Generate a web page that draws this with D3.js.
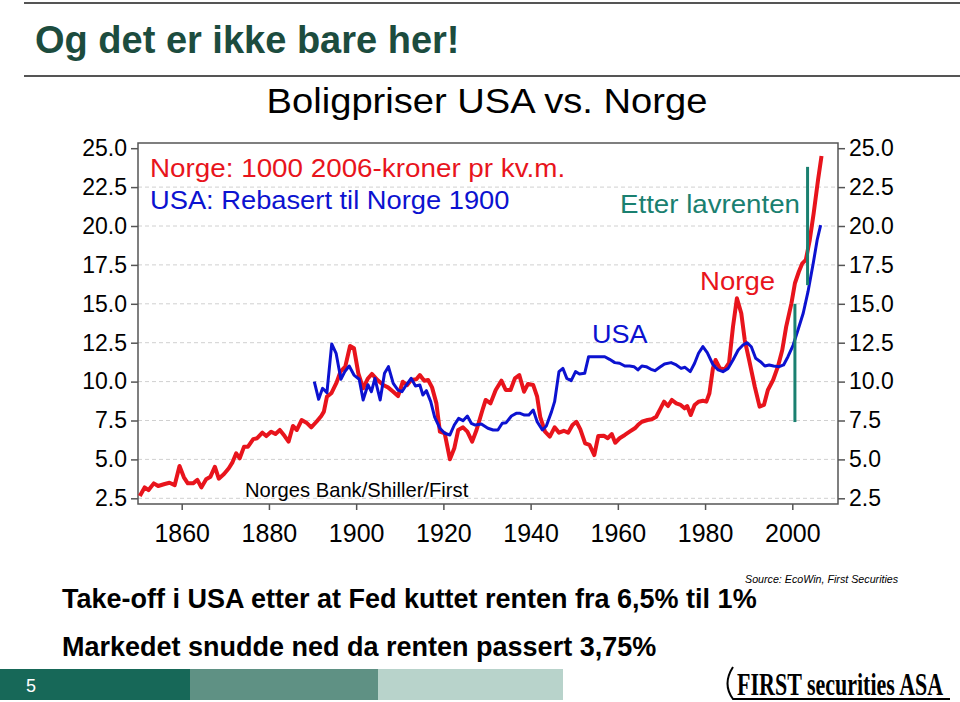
<!DOCTYPE html>
<html><head><meta charset="utf-8">
<script src="https://cdn.jsdelivr.net/npm/d3@7"></script>
<style>body{margin:0;background:#fff;overflow:hidden}</style>
</head><body>
<svg id="c" width="960" height="702"></svg>
<script>
// ---------- DATA ----------
const norgeYears = [1850.4,1851.5,1852.4,1853.6,1854.6,1856.1,1857.2,1858.4,1859.5,1860.5,1861.4,1862.6,1863.6,1864.5,1865.6,1866.6,1867.6,1868.5,1869.7,1870.8,1871.6,1872.5,1873.3,1874.3,1875.2,1876.4,1877.3,1878.5,1879.4,1880.5,1881.5,1882.5,1883.6,1884.5,1885.5,1886.4,1887.5,1888.6,1889.7,1890.9,1892.0,1892.6,1893.3,1894.3,1895.5,1896.4,1897.5,1898.6,1899.5,1900.5,1901.6,1902.7,1903.6,1904.9,1906.2,1907.3,1908.5,1909.6,1910.7,1911.7,1912.6,1913.8,1914.6,1915.6,1916.5,1917.4,1918.4,1919.2,1920.3,1921.5,1922.5,1923.4,1924.5,1925.5,1926.6,1927.6,1929.1,1929.7,1930.8,1932.0,1933.3,1934.3,1935.4,1936.4,1937.4,1938.5,1939.4,1940.6,1941.5,1942.2,1943.3,1944.4,1945.5,1946.5,1947.6,1948.6,1949.6,1950.5,1951.4,1952.5,1953.5,1954.6,1955.5,1956.8,1957.7,1958.6,1959.4,1960.4,1961.6,1962.7,1963.9,1964.6,1965.5,1966.8,1967.8,1968.8,1969.8,1970.6,1971.5,1972.4,1973.4,1974.4,1975.3,1975.9,1976.7,1977.6,1978.5,1979.5,1980.3,1981.0,1981.8,1982.4,1983.4,1984.5,1985.5,1986.4,1987.3,1988.3,1989.1,1990.1,1991.4,1992.5,1993.5,1994.4,1995.6,1996.7,1997.7,1998.6,1999.8,2000.6,2001.5,2002.3,2003.1,2004.0,2004.9,2005.9,2006.7];
const norgeValues = [2.65,3.2,3.03,3.46,3.29,3.42,3.5,3.35,4.58,3.85,3.46,3.46,3.68,3.2,3.72,3.89,4.53,3.76,4.06,4.43,4.79,5.39,5.07,5.82,5.82,6.3,6.36,6.72,6.5,6.78,6.63,6.89,6.5,6.14,7.15,6.89,7.53,7.36,7.06,7.42,7.79,8.07,9.03,9.25,9.93,10.64,10.96,12.29,12.14,10.53,9.57,10.2,10.49,10.1,9.78,9.63,9.35,9.07,9.99,9.78,10.1,10.15,10.42,10.06,10.1,9.63,8.6,6.78,6.68,5.01,5.71,6.89,7.06,6.78,6.14,6.89,8.3,8.82,8.6,9.46,10.06,9.46,9.46,10.21,10.42,9.35,9.85,9.78,9.03,7.74,6.78,6.46,7.06,6.72,6.84,6.72,7.21,7.42,6.93,6.03,5.93,5.28,6.5,6.52,6.36,6.63,6.07,6.36,6.57,6.78,7.0,7.21,7.42,7.53,7.58,7.74,8.28,8.71,8.43,8.82,8.6,8.5,8.28,8.43,7.85,8.5,8.71,8.77,8.71,9.25,10.85,11.39,10.85,10.79,11.21,13.53,15.35,14.39,12.67,11.39,9.67,8.39,8.5,9.46,10.1,10.96,12.03,13.53,15.03,16.32,17.06,17.6,17.82,19.1,20.82,22.96,24.5];

const usaYears = [1890.4,1891.4,1892.3,1893.3,1894.4,1895.4,1896.5,1897.4,1898.4,1899.5,1900.7,1901.6,1902.7,1903.5,1904.3,1905.5,1906.5,1907.4,1908.5,1909.6,1910.5,1911.5,1912.6,1913.6,1914.6,1915.3,1916.1,1917.1,1918.0,1919.2,1920.3,1921.5,1922.5,1923.5,1924.5,1925.5,1926.4,1927.3,1928.7,1930.2,1931.4,1932.5,1933.5,1934.4,1935.6,1936.7,1937.6,1938.6,1939.6,1940.6,1941.5,1942.7,1943.6,1944.8,1945.5,1946.5,1947.4,1948.3,1949.3,1950.3,1951.2,1952.4,1953.3,1954.4,1955.5,1957.0,1958.1,1959.3,1960.4,1961.6,1962.7,1963.7,1964.6,1965.5,1966.5,1967.6,1968.5,1969.6,1970.7,1972.2,1973.4,1974.5,1975.4,1976.6,1977.6,1978.5,1979.5,1980.5,1981.8,1983.0,1984.1,1985.3,1986.4,1987.6,1988.7,1989.6,1990.6,1991.6,1992.7,1993.7,1994.7,1995.7,1997.0,1998.0,1999.0,2000.2,2001.3,2002.5,2003.6,2004.8,2005.7,2006.5];
const usaValues = [10.0,8.86,9.57,9.29,12.42,11.82,10.15,10.64,11.0,10.42,10.15,8.82,9.8,9.35,10.21,8.82,10.53,10.96,9.89,9.46,9.35,9.78,10.21,9.72,9.78,9.14,9.42,8.71,7.71,7.0,6.68,6.57,7.21,7.64,7.49,7.79,7.32,7.21,7.28,7.0,6.89,6.89,7.32,7.36,7.79,7.96,7.96,7.85,7.85,8.17,7.42,6.89,7.15,8.07,8.71,10.64,10.85,10.21,10.06,10.64,10.49,10.53,11.6,11.6,11.6,11.6,11.43,11.22,11.18,11.0,11.0,10.96,10.75,11.0,10.96,10.79,10.7,10.92,11.13,11.22,11.07,10.85,10.92,10.64,11.18,11.82,12.25,11.86,11.1,10.75,10.64,10.85,11.39,12.03,12.35,12.5,12.24,11.5,11.28,11.0,11.07,11.0,10.96,11.07,11.6,12.35,13.32,14.39,15.78,17.6,19.1,20.06];

const markerYears = [2000.6, 2003.5];
const markerLow   = [7.4, 16.2];
const markerHigh  = [15.0, 23.8];

const xTicks = [1860,1880,1900,1920,1940,1960,1980,2000];
const yTicks = [2.5,5,7.5,10,12.5,15,17.5,20,22.5,25];
const gridValues = [2.5,5,7.5,10,12.5,15,17.5,20,22.5];

// ---------- LAYOUT ----------
const svg = d3.select('#c');
const FONT = "'Liberation Sans', Arial, Helvetica, sans-serif";
const L = 138, R = 838, T = 143, B = 504;
const x = d3.scaleLinear().domain([1860, 2000]).range([181.7, 792.3]);
const y = d3.scaleLinear().domain([2.5, 25]).range([498.3, 148.2]);

const RED = '#e8141c', BLUE = '#0c12d0', TEAL = '#1a8070';

function label(px, py, txt, size, color, o = {}) {
  return svg.append('text')
    .attr('transform', `translate(${px},${py}) scale(${o.sx || 1},1)`)
    .attr('font-family', o.family || FONT)
    .attr('font-size', size)
    .attr('font-weight', o.weight || 'normal')
    .attr('font-style', o.style || 'normal')
    .attr('text-anchor', o.anchor || 'start')
    .attr('fill', color)
    .text(txt);
}

// header rules & title
svg.append('line').attr('x1', 24).attr('x2', 960).attr('y1', 3).attr('y2', 3).attr('stroke', '#555').attr('stroke-width', 2);
svg.append('line').attr('x1', 24).attr('x2', 960).attr('y1', 76).attr('y2', 76).attr('stroke', '#555').attr('stroke-width', 2);
label(35, 53, 'Og det er ikke bare her!', 38, '#1c4c3e', {weight: 'bold'});

// chart title
label(487, 113, 'Boligpriser USA vs. Norge', 35, '#000', {anchor: 'middle', sx: 1.09});

// gridlines
svg.append('g').selectAll('line').data(gridValues).join('line')
  .attr('x1', L).attr('x2', R)
  .attr('y1', d => y(d)).attr('y2', d => y(d))
  .attr('stroke', '#d0d0d0').attr('stroke-width', 1).attr('stroke-dasharray', '4,3');

// axes
const fmt = d3.format('.1f');
const gl = svg.append('g').attr('transform', `translate(${L},0)`)
  .call(d3.axisLeft(y).tickValues(yTicks).tickFormat(fmt).tickSize(7).tickPadding(4));
const gr = svg.append('g').attr('transform', `translate(${R},0)`)
  .call(d3.axisRight(y).tickValues(yTicks).tickFormat(fmt).tickSize(7).tickPadding(4));
const gb = svg.append('g').attr('transform', `translate(0,${B})`)
  .call(d3.axisBottom(x).tickValues(xTicks).tickFormat(d3.format('d')).tickSize(6).tickPadding(14));
[gl, gr, gb].forEach(g => {
  g.select('.domain').remove();
  g.selectAll('.tick line').attr('stroke', '#555').attr('stroke-width', 1.5);
  g.selectAll('text').attr('font-family', FONT).attr('fill', '#000');
});
gl.selectAll('text').attr('font-size', 23);
gr.selectAll('text').attr('font-size', 23);
gb.selectAll('text').attr('font-size', 25);

// frame
svg.append('rect').attr('x', L).attr('y', T).attr('width', R - L).attr('height', B - T)
  .attr('fill', 'none').attr('stroke', '#555').attr('stroke-width', 1.5);

// lines
const line = d3.line().x(d => x(d[0])).y(d => y(d[1]));
const norge = norgeYears.map((d, i) => [d, norgeValues[i]]);
const usa = usaYears.map((d, i) => [d, usaValues[i]]);
svg.append('path').datum(norge).attr('d', line).attr('fill', 'none')
  .attr('stroke', RED).attr('stroke-width', 4).attr('stroke-linejoin', 'round');
svg.append('path').datum(usa).attr('d', line).attr('fill', 'none')
  .attr('stroke', BLUE).attr('stroke-width', 3).attr('stroke-linejoin', 'round');

// teal marker lines
svg.append('g').selectAll('line').data(markerYears).join('line')
  .attr('x1', d => x(d)).attr('x2', d => x(d))
  .attr('y1', (d, i) => y(markerLow[i])).attr('y2', (d, i) => y(markerHigh[i]))
  .attr('stroke', TEAL).attr('stroke-width', 3);

// chart annotations
label(150, 177, 'Norge: 1000 2006-kroner pr kv.m.', 26, RED, {sx: 1.07});
label(150, 209, 'USA: Rebasert til Norge 1900', 26, BLUE, {sx: 1.05});
label(620, 213, 'Etter lavrenten', 26, TEAL, {sx: 1.065});
label(700, 290, 'Norge', 26, RED, {sx: 1.06});
label(592, 343, 'USA', 26, BLUE, {sx: 1.04});
label(245, 497, 'Norges Bank/Shiller/First', 20.2, '#000');

// source & bullets
label(745, 583, 'Source: EcoWin, First Securities', 10.7, '#000', {style: 'italic'});
label(62, 608, 'Take-off i USA etter at Fed kuttet renten fra 6,5% til 1%', 27, '#000', {weight: 'bold'});
label(62, 656, 'Markedet snudde ned da renten passert 3,75%', 27, '#000', {weight: 'bold'});

// footer bars
const barColors = ['#176858', '#5f9184', '#b8d3cb'];
const barX = [0, 190, 378];
const barW = [190, 188, 185];
barColors.forEach((c, i) => svg.append('rect').attr('x', barX[i]).attr('y', 669).attr('width', barW[i]).attr('height', 31).attr('fill', c));
label(26, 692, '5', 18, '#fff');

// logo
svg.append('path').attr('d', 'M733,667 Q722,684 733,699 L950,699')
  .attr('fill', 'none').attr('stroke', '#000').attr('stroke-width', 2);
label(737, 695, 'FIRST securities ASA', 31, '#000',
  {weight: 'bold', sx: 0.71, family: "'Liberation Serif', 'Times New Roman', serif"});
</script>
</body></html>
